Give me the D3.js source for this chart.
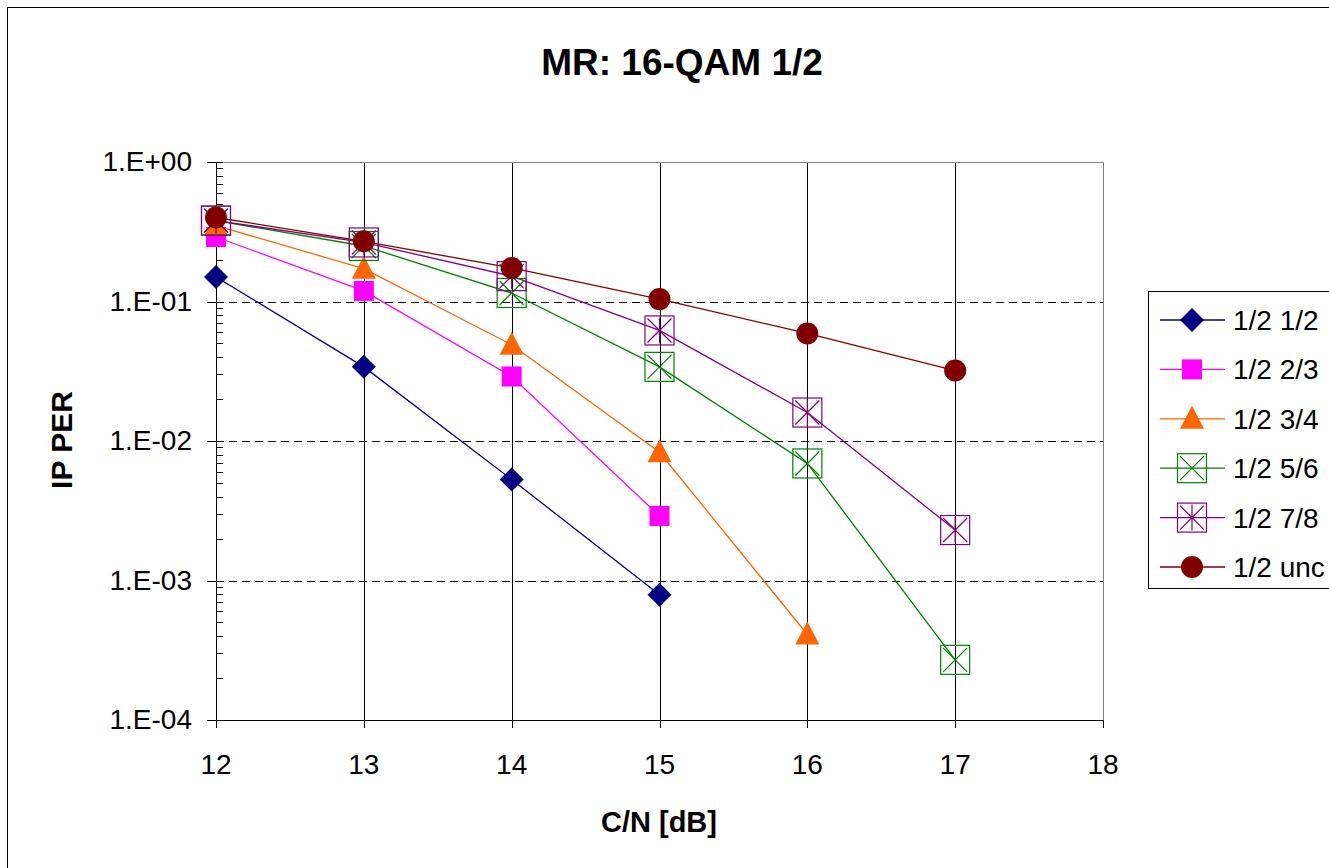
<!DOCTYPE html>
<html>
<head>
<meta charset="utf-8">
<script src="https://cdn.jsdelivr.net/npm/d3@7"></script>
<style>
  body { margin: 0; background: #fff; }
  svg { display: block; font-family: "Liberation Sans", Arial, sans-serif; }
</style>
</head>
<body>
<svg id="chart" width="1329" height="868"></svg>
<script>
// x values (C/N in dB)
const cn = [12, 13, 14, 15, 16, 17];
const xTicks = [12, 13, 14, 15, 16, 17, 18];
const yTicks = [1, 0.1, 0.01, 0.001, 0.0001];
const yTickLabels = ["1.E+00", "1.E-01", "1.E-02", "1.E-03", "1.E-04"];

// series (IP PER)
const per12 = [0.15, 0.034, 0.0053, 0.00079];
const per23 = [0.29, 0.119, 0.029, 0.0029];
const per34 = [0.35, 0.172, 0.049, 0.0083, 0.00041];
const per56 = [0.38, 0.25, 0.115, 0.034, 0.0069, 0.00027];
const per78 = [0.38, 0.265, 0.152, 0.062, 0.016, 0.0023];
const perUnc = [0.40, 0.27, 0.174, 0.104, 0.059, 0.032];

const seriesNames = ["1/2 1/2", "1/2 2/3", "1/2 3/4", "1/2 5/6", "1/2 7/8", "1/2 unc"];
const seriesColors = ["#000080", "#ff00ff", "#ff6600", "#008000", "#800080", "#800000"];
const seriesMarkers = ["diamond", "square", "triangle", "boxX", "boxStar", "circle"];
const seriesValues = [per12, per23, per34, per56, per78, perUnc];

const svg = d3.select("#chart");

// outer chart frame
svg.append("rect")
    .attr("x", 7.5).attr("y", 7.5)
    .attr("width", 1340).attr("height", 880)
    .attr("fill", "#fff").attr("stroke", "#000").attr("stroke-width", 1);

const plot = {left: 216, right: 1103, top: 162, bottom: 720};

const x = d3.scaleLinear().domain([12, 18]).range([plot.left, plot.right]);
const y = d3.scaleLog().domain([1e-4, 1]).range([plot.bottom, plot.top]);

// gridlines
const grid = svg.append("g");
grid.selectAll("line.h")
  .data(yTicks.filter(v => v < 1 && v > 1e-4))
  .join("line")
    .attr("x1", plot.left).attr("x2", plot.right)
    .attr("y1", d => Math.round(y(d)) + 0.5).attr("y2", d => Math.round(y(d)) + 0.5)
    .attr("stroke", "#000").attr("stroke-dasharray", "8,5");
grid.selectAll("line.v")
  .data(xTicks.filter(v => v > 12 && v < 18))
  .join("line")
    .attr("x1", d => Math.round(x(d)) + 0.5).attr("x2", d => Math.round(x(d)) + 0.5)
    .attr("y1", plot.top).attr("y2", plot.bottom)
    .attr("stroke", "#000");

// plot area border (top and right)
svg.append("path")
    .attr("d", `M${plot.left},${plot.top + 0.5}H${plot.right + 0.5}V${plot.bottom}`)
    .attr("fill", "none").attr("stroke", "#808080");

// y axis with log minor ticks
const minor = [];
for (let e = -4; e < 0; e++) for (let m = 2; m <= 9; m++) minor.push(m * Math.pow(10, e));
const yAxisG = svg.append("g");
yAxisG.append("line")
    .attr("x1", plot.left + 0.5).attr("x2", plot.left + 0.5)
    .attr("y1", plot.top).attr("y2", plot.bottom)
    .attr("stroke", "#000");
yAxisG.selectAll("line.minor")
  .data(minor)
  .join("line")
    .attr("x1", plot.left).attr("x2", plot.left + 7)
    .attr("y1", d => Math.round(y(d)) + 0.5).attr("y2", d => Math.round(y(d)) + 0.5)
    .attr("stroke", "#000");
yAxisG.selectAll("line.major")
  .data(yTicks)
  .join("line")
    .attr("x1", plot.left - 9).attr("x2", plot.left + 7)
    .attr("y1", d => Math.round(y(d)) + 0.5).attr("y2", d => Math.round(y(d)) + 0.5)
    .attr("stroke", "#000");
yAxisG.selectAll("text")
  .data(yTicks)
  .join("text")
    .attr("x", 192).attr("y", d => y(d) + 9)
    .attr("text-anchor", "end").attr("font-size", 28)
    .text((d, i) => yTickLabels[i]);

// x axis
const xAxisG = svg.append("g");
xAxisG.append("line")
    .attr("x1", plot.left).attr("x2", plot.right)
    .attr("y1", plot.bottom + 0.5).attr("y2", plot.bottom + 0.5)
    .attr("stroke", "#000");
xAxisG.selectAll("line.tick")
  .data(xTicks)
  .join("line")
    .attr("x1", d => Math.round(x(d)) + 0.5).attr("x2", d => Math.round(x(d)) + 0.5)
    .attr("y1", plot.bottom).attr("y2", plot.bottom + 8)
    .attr("stroke", "#000");
xAxisG.selectAll("text")
  .data(xTicks)
  .join("text")
    .attr("x", d => x(d)).attr("y", 774)
    .attr("text-anchor", "middle").attr("font-size", 28)
    .text(d => d);

// titles
svg.append("text")
    .attr("x", 682).attr("y", 75)
    .attr("text-anchor", "middle").attr("font-size", 37).attr("font-weight", "bold")
    .text("MR: 16-QAM 1/2");
svg.append("text")
    .attr("x", 659).attr("y", 832)
    .attr("text-anchor", "middle").attr("font-size", 29).attr("font-weight", "bold")
    .text("C/N [dB]");
svg.append("text")
    .attr("transform", "translate(72,440) rotate(-90)")
    .attr("text-anchor", "middle").attr("font-size", 30).attr("font-weight", "bold")
    .text("IP PER");

// marker drawing
function drawMarker(g, type, color) {
  if (type === "diamond") {
    g.append("path").attr("d", "M0,-12L12,0L0,12L-12,0Z").attr("fill", color);
  } else if (type === "square") {
    g.append("rect").attr("x", -10).attr("y", -10).attr("width", 20).attr("height", 20).attr("fill", color);
  } else if (type === "triangle") {
    g.append("path").attr("d", "M0,-13L12,10L-12,10Z").attr("fill", color);
  } else if (type === "circle") {
    g.append("circle").attr("r", 11).attr("fill", color);
  } else {
    const s = 15;
    g.append("rect").attr("x", -s + 0.5).attr("y", -s + 0.5).attr("width", 2 * s - 1).attr("height", 2 * s - 1)
      .attr("fill", "none").attr("stroke", color).attr("stroke-width", 1.2);
    let p = `M${-s + 3},${-s + 3}L${s - 3},${s - 3}M${s - 3},${-s + 3}L${-s + 3},${s - 3}`;
    if (type === "boxStar") p += `M0,${-s + 2}V${s - 2}`;
    g.append("path").attr("d", p).attr("stroke", color).attr("stroke-width", 1.2).attr("fill", "none");
  }
}

// lines then markers
const line = d3.line().x((d, i) => x(cn[i])).y(d => y(d));
seriesValues.forEach((vals, si) => {
  svg.append("path")
      .datum(vals)
      .attr("d", line)
      .attr("fill", "none")
      .attr("stroke", seriesColors[si])
      .attr("stroke-width", 1.3);
});
seriesValues.forEach((vals, si) => {
  vals.forEach((v, i) => {
    const g = svg.append("g").attr("transform", `translate(${x(cn[i])},${y(v)})`);
    drawMarker(g, seriesMarkers[si], seriesColors[si]);
  });
});

// legend
const legend = svg.append("g");
legend.append("rect")
    .attr("x", 1148.5).attr("y", 291.5).attr("width", 200).attr("height", 297)
    .attr("fill", "#fff").attr("stroke", "#000");
seriesNames.forEach((name, i) => {
  const ly = 320 + i * 49.4;
  legend.append("line")
      .attr("x1", 1160).attr("x2", 1225).attr("y1", ly).attr("y2", ly)
      .attr("stroke", seriesColors[i]).attr("stroke-width", 1.3);
  const g = legend.append("g").attr("transform", `translate(1192,${ly})`);
  drawMarker(g, seriesMarkers[i], seriesColors[i]);
  legend.append("text")
      .attr("x", 1233).attr("y", ly + 10)
      .attr("font-size", 28)
      .text(name);
});
</script>
</body>
</html>
